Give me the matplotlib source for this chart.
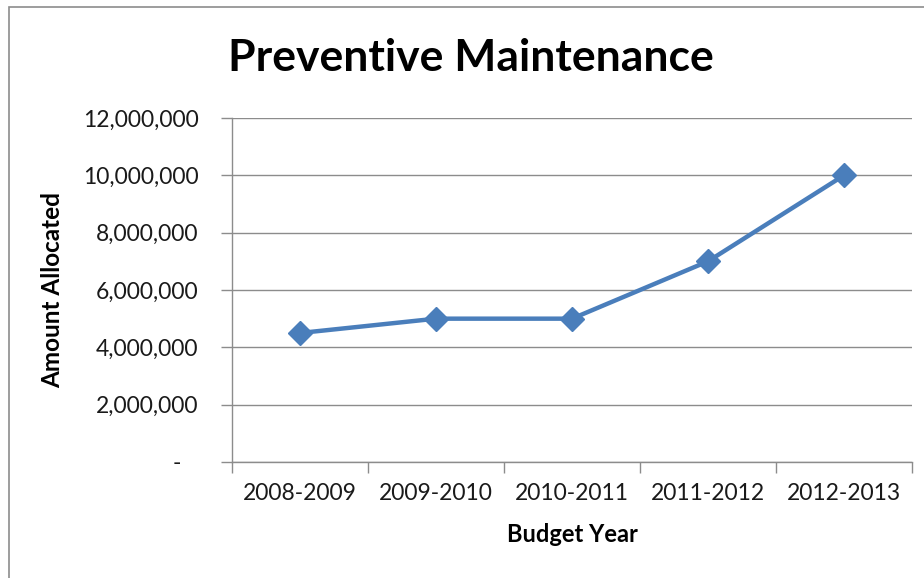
import matplotlib
matplotlib.use("Agg")
import matplotlib.pyplot as plt
from matplotlib.patches import Rectangle
from matplotlib.ticker import FuncFormatter, FixedLocator

# data
years = ["2008-2009", "2009-2010", "2010-2011", "2011-2012", "2012-2013"]
amounts = [4_500_000, 5_000_000, 5_000_000, 7_000_000, 10_000_000]
y_ticks = [0, 2_000_000, 4_000_000, 6_000_000, 8_000_000, 10_000_000, 12_000_000]

plt.rcParams["font.family"] = ["Lato", "DejaVu Sans"]

W, H = 924, 578
fig = plt.figure(figsize=(W / 100, H / 100), dpi=100)
fig.patch.set_facecolor("white")

# outer chart border (only top/left visible in the crop)
fig.add_artist(Rectangle((8.5 / W, -0.1), 1.2, 1.1 - 7.5 / H, transform=fig.transFigure,
                         fill=False, edgecolor="#8c8c8c", linewidth=1.2))

left, right, top, bottom = 232, 912, 118, 462
ax = fig.add_axes([left / W, (H - bottom) / H, (right - left) / W, (bottom - top) / H])

x = [i + 0.5 for i in range(len(years))]
ax.plot(x, amounts, color="#4A7EBB", linewidth=3.2, marker="D", markersize=12,
        markerfacecolor="#4A7EBB", markeredgecolor="#4A7EBB", zorder=3, clip_on=False)

ax.set_xlim(0, len(years))
ax.set_ylim(0, 12_000_000)

ax.yaxis.set_major_locator(FixedLocator(y_ticks))
ax.yaxis.set_major_formatter(FuncFormatter(lambda v, p: "-   " if v == 0 else f"{int(v):,}"))
ax.grid(axis="y", color="#8c8c8c", linewidth=1)
ax.set_axisbelow(True)

ax.xaxis.set_major_locator(FixedLocator(range(len(years) + 1)))
ax.xaxis.set_major_formatter(FuncFormatter(lambda v, p: ""))
ax.xaxis.set_minor_locator(FixedLocator(x))
ax.set_xticklabels(years, minor=True)
ax.tick_params(axis="x", which="major", length=8, color="#8c8c8c", width=1)
ax.tick_params(axis="x", which="minor", length=0, pad=15, labelsize=16.5, labelcolor="#1a1a1a")
ax.tick_params(axis="y", length=8, color="#8c8c8c", width=1, pad=16, labelsize=16.5,
               labelcolor="#1a1a1a")

for s in ("top", "right"):
    ax.spines[s].set_visible(False)
for s in ("left", "bottom"):
    ax.spines[s].set_color("#8c8c8c")
    ax.spines[s].set_linewidth(1)

fig.text(471 / W, 1 - 58 / H, "Preventive Maintenance", ha="center", va="center",
         fontsize=32, fontweight="bold", color="black")
fig.text(572 / W, 1 - 535 / H, "Budget Year", ha="center", va="center",
         fontsize=17, fontweight="bold", color="black")
fig.text(53 / W, 1 - 290 / H, "Amount Allocated", ha="center", va="center",
         rotation=90, fontsize=17.5, fontweight="bold", color="black")

fig.savefig("out.png", dpi=100)
